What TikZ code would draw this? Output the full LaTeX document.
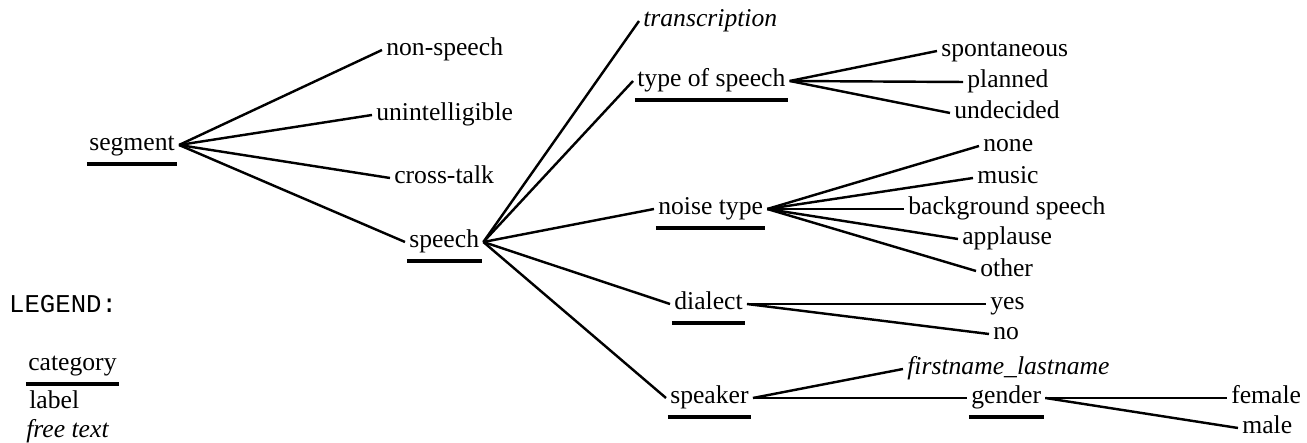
\documentclass[tikz,border=0pt]{standalone}
\usepackage{fontspec}
\setmainfont{Liberation Serif}
\setmonofont{Liberation Mono}
\usepackage{tikz}

\begin{document}
\begin{tikzpicture}[x=0.39pt,y=-0.39pt,line width=0.95pt,
        lbl/.style={inner xsep=1.2pt,inner ysep=0pt,anchor=mid west},
        uline/.style={line width=1.3pt,shorten <=0.7pt,shorten >=0.7pt},
        cat/.style={lbl,text depth=4.6pt,append after command={(\tikzlastnode.south west) edge[uline] (\tikzlastnode.south east)}},
        free/.style={lbl,font=\itshape}]
        \useasboundingbox (0,0) rectangle (1307,443);
        % tree
        \node[cat] (seg) at (85,145) {segment};
        \node[lbl] (nonsp) at (382,50) {non-speech};
        \node[lbl] (unint) at (372,115) {unintelligible};
        \node[lbl] (xtalk) at (390,178) {cross-talk};
        \node[cat] (sp) at (405,242) {speech};
        \node[free] (trans) at (639,21) {transcription};
        \node[cat] (tos) at (633,81) {type of speech};
        \node[lbl] (spont) at (937,51) {spontaneous};
        \node[lbl] (plan) at (963,82) {planned};
        \node[lbl] (undec) at (950,113) {undecided};
        \node[cat] (noise) at (654,209) {noise type};
        \node[lbl] (none) at (979,146) {none};
        \node[lbl] (music) at (973,178) {music};
        \node[lbl] (bgsp) at (904,209) {background speech};
        \node[lbl] (appl) at (958,239) {applause};
        \node[lbl] (other) at (976,271) {other};
        \node[cat] (dial) at (670,304) {dialect};
        \node[lbl] (yes) at (986,304) {yes};
        \node[lbl] (no) at (989,334) {no};
        \node[cat] (spk) at (666,398) {speaker};
        \node[free] (name) at (903,369) {firstname\_lastname};
        \node[cat] (gend) at (967,398) {gender};
        \node[lbl] (fem) at (1227,398) {female};
        \node[lbl] (male) at (1238,428) {male};
        \draw (seg.mid east)--(nonsp.mid west);
        \draw (seg.mid east)--(unint.mid west);
        \draw (seg.mid east)--(xtalk.mid west);
        \draw (seg.mid east)--(sp.mid west);
        \draw (sp.mid east)--(trans.mid west);
        \draw (sp.mid east)--(tos.mid west);
        \draw (sp.mid east)--(noise.mid west);
        \draw (sp.mid east)--(dial.mid west);
        \draw (sp.mid east)--(spk.mid west);
        \draw (tos.mid east)--(spont.mid west);
        \draw (tos.mid east)--(plan.mid west);
        \draw (tos.mid east)--(undec.mid west);
        \draw (noise.mid east)--(none.mid west);
        \draw (noise.mid east)--(music.mid west);
        \draw (noise.mid east)--(bgsp.mid west);
        \draw (noise.mid east)--(appl.mid west);
        \draw (noise.mid east)--(other.mid west);
        \draw (dial.mid east)--(yes.mid west);
        \draw (dial.mid east)--(no.mid west);
        \draw (spk.mid east)--(name.mid west);
        \draw (spk.mid east)--(gend.mid west);
        \draw (gend.mid east)--(fem.mid west);
        \draw (gend.mid east)--(male.mid west);
        % legend
        \node[anchor=base west,inner sep=0pt,font=\ttfamily] (leg) at (8,313) {LEGEND:};
        \node[cat] (lcat) at (24,365) {category};
        \node[lbl] (llab) at (25,403) {label};
        \node[free] (lfree) at (22,432) {free text};
\end{tikzpicture}
\end{document}
